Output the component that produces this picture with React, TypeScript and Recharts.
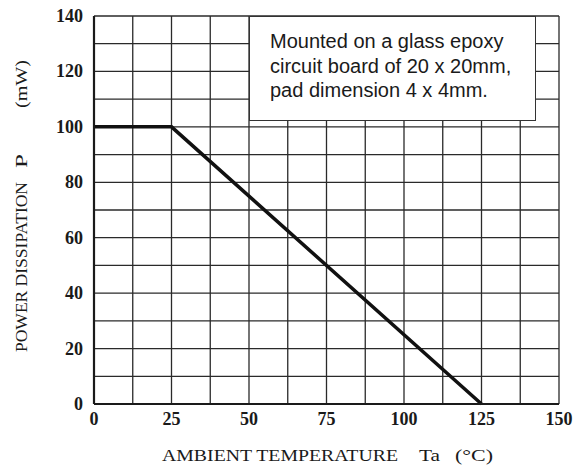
import { LineChart, Line, XAxis, YAxis, CartesianGrid } from "recharts";

// derating curve: ambient temperature (°C) vs allowed power (mW)
const temps = [0, 25, 125];
const power = [100, 100, 0];

// grid every 12.5 °C / 10 mW, labels only on 25 / 20
const xTicks = [0, 12.5, 25, 37.5, 50, 62.5, 75, 87.5, 100, 112.5, 125, 137.5, 150];
const yTicks = [0, 10, 20, 30, 40, 50, 60, 70, 80, 90, 100, 110, 120, 130, 140];

const noteLines = [
    "Mounted on a glass epoxy",
    "circuit board of 20 x 20mm,",
    "pad dimension 4 x 4mm.",
];

const W = 582;
const H = 468;
const INK = "#1a1a1a";
const SERIF = "'Liberation Serif', 'Times New Roman', serif";

const data = temps.map((t, i) => ({ ta: t, p: power[i] }));

function XTick({ x, y, payload }: any) {
    const v = payload.value;
    if (v % 25 !== 0) return null;
    return (
        <text x={x} y={y} dy={13} textAnchor="middle" fontFamily={SERIF} fontWeight="bold" fontSize={18} fill={INK}>
            {v}
        </text>
    );
}

function YTick({ x, y, payload }: any) {
    const v = payload.value;
    if (v % 20 !== 0) return null;
    return (
        <text x={x} y={y} dy={6} textAnchor="end" fontFamily={SERIF} fontWeight="bold" fontSize={18} fill={INK}>
            {v}
        </text>
    );
}

export default function App() {
    return (
        <div style={{ position: "absolute", left: 0, top: 0, width: W, height: H, background: "#fff" }}>
            <LineChart width={W} height={H} data={data} margin={{ top: 16, right: 23, bottom: 0, left: 0 }}>
                <CartesianGrid stroke="#2a2a2a" strokeWidth={1.3} horizontalValues={yTicks} verticalValues={xTicks} />
                <XAxis
                    type="number"
                    dataKey="ta"
                    domain={[0, 150]}
                    ticks={xTicks}
                    interval={0}
                    height={64}
                    tickLine={false}
                    axisLine={{ stroke: INK, strokeWidth: 2.2 }}
                    tickMargin={2}
                    tick={<XTick />}
                />
                <YAxis
                    type="number"
                    dataKey="p"
                    domain={[0, 140]}
                    ticks={yTicks}
                    interval={0}
                    width={94}
                    tickLine={false}
                    axisLine={{ stroke: INK, strokeWidth: 2.2 }}
                    tickMargin={5}
                    tick={<YTick />}
                />
                <Line
                    type="linear"
                    dataKey="p"
                    stroke="#111"
                    strokeWidth={3.5}
                    dot={false}
                    isAnimationActive={false}
                />
            </LineChart>

            <svg width={W} height={H} style={{ position: "absolute", left: 0, top: 0, pointerEvents: "none" }}>
                <g fontFamily={SERIF} fontSize={17} fill={INK}>
                    <text x={162} y={461} textLength={236} lengthAdjust="spacingAndGlyphs">AMBIENT TEMPERATURE</text>
                    <text x={419} y={461} textLength={21} lengthAdjust="spacingAndGlyphs">Ta</text>
                    <text x={455} y={461} textLength={38} lengthAdjust="spacingAndGlyphs">(°C)</text>
                </g>
                <g fontFamily={SERIF} fontSize={16} fill={INK} transform="translate(27, 0) rotate(-90)">
                    <text x={-352} y={0} textLength={170} lengthAdjust="spacingAndGlyphs">POWER DISSIPATION</text>
                    <text x={-168} y={0} textLength={14} lengthAdjust="spacingAndGlyphs">P</text>
                    <text x={-108} y={0} textLength={48} lengthAdjust="spacingAndGlyphs">(mW)</text>
                </g>
            </svg>

            <div
                style={{
                    position: "absolute",
                    left: 249,
                    top: 16,
                    width: 287,
                    height: 105,
                    boxSizing: "border-box",
                    border: "1.5px solid #333",
                    background: "#fff",
                    padding: "12px 0 0 20px",
                    fontFamily: "'Liberation Sans', Arial, sans-serif",
                    fontSize: 20,
                    lineHeight: "24.5px",
                    color: INK,
                }}
            >
                {noteLines.map((l) => (
                    <div key={l}>{l}</div>
                ))}
            </div>
        </div>
    );
}
